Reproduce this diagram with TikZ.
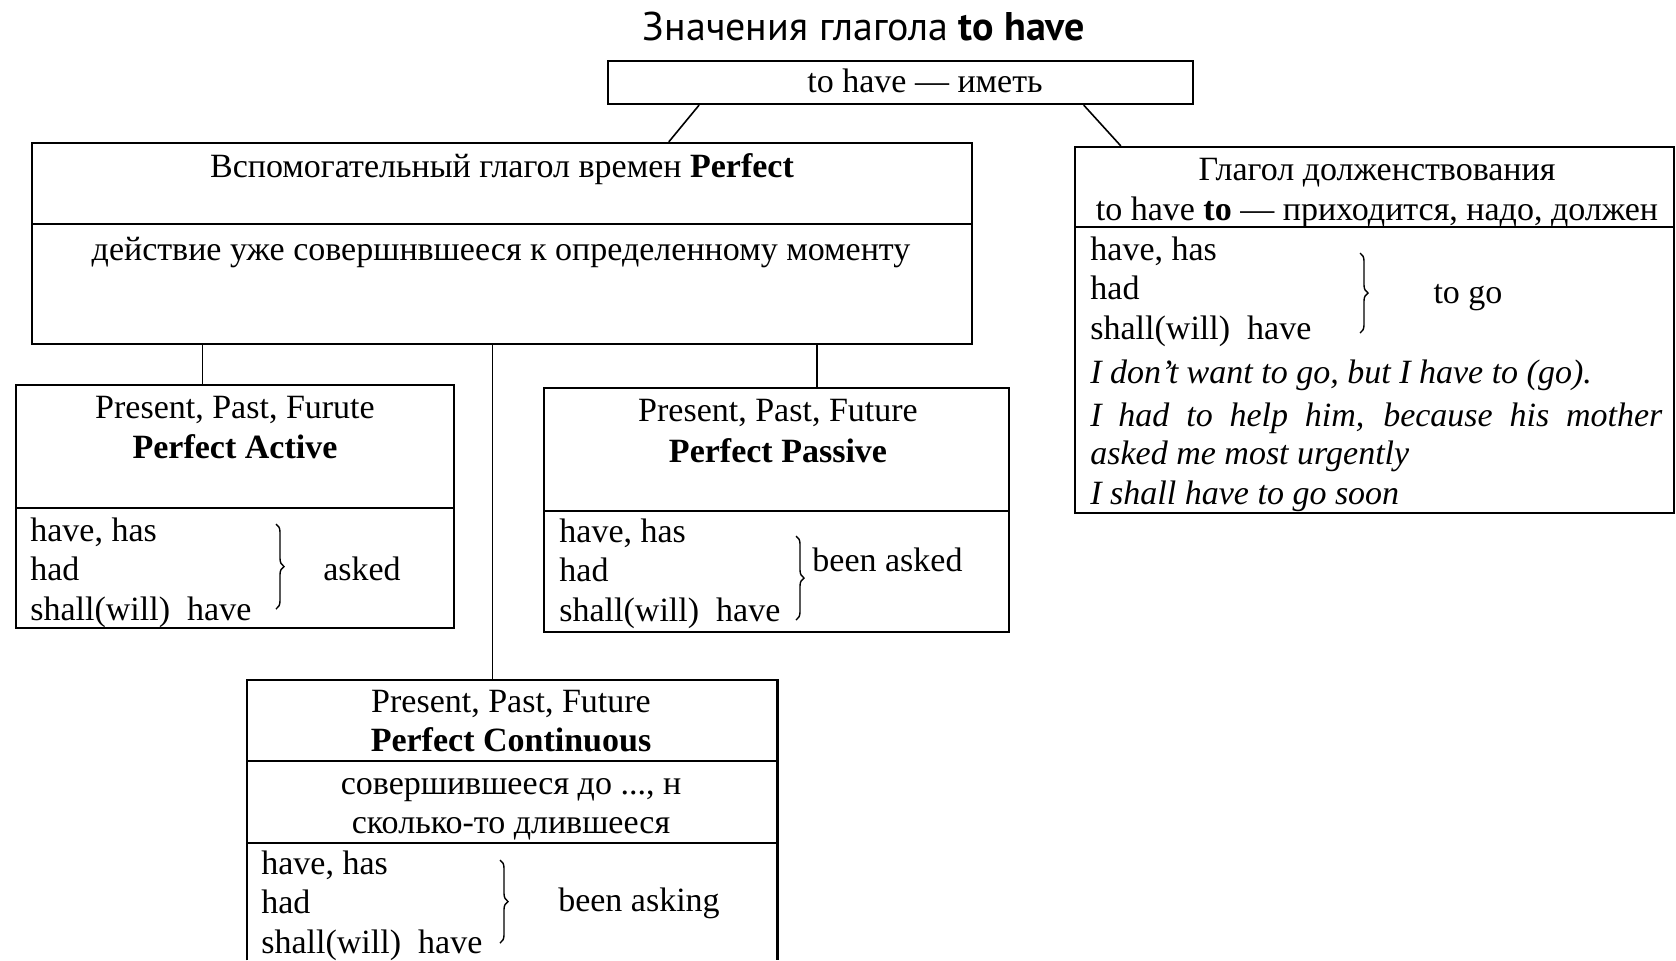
\documentclass[tikz,border=0pt]{standalone}
\usepackage{fontspec}
\setmainfont{Liberation Serif}
\newfontfamily\titlefont{PT Sans}
\usetikzlibrary{calc,fit,decorations.pathreplacing}

\tikzset{
  box/.style={draw, line width=1.1pt, inner sep=0pt},
  txt/.style={font=\fontsize{17}{19.75}\selectfont, inner sep=0pt, text height=12pt, text depth=4pt, yshift=-1.5pt},
  row/.style={txt, anchor=west},
  ex/.style={row, font=\fontsize{17}{19.75}\selectfont\itshape},
  brc/.style={decorate, decoration={brace, amplitude=4pt}, line width=0.7pt}
}

\begin{document}
\begin{tikzpicture}[x=0.5pt,y=-0.5pt]
        \useasboundingbox (0,0) rectangle (1676,960);
        \node[font=\titlefont\fontsize{20}{24}\selectfont] (title) at (864,27) {Значения глагола \textbf{to have}};
        % boxes
        \node[box, fit={(608,61) (1193,104)}] (top) {};
        \node[box, fit={(32,143) (972,344)}] (aux) {};
        \node[box, fit={(1075,147) (1674,513)}] (must) {};
        \node[box, fit={(16,385) (454,628)}] (act) {};
        \node[box, fit={(544,388) (1009,632)}] (pas) {};
        \node[inner sep=0pt, fit={(247,680) (777,960)}] (cont) {};
        \draw[line width=1.1pt] (cont.south west) |- (cont.north east) -- (cont.south east);
        % dividers
        \draw[line width=1.1pt] (32,224) -- (972,224);
        \draw[line width=1.1pt] (1075,227) -- (1674,227);
        \draw[line width=1.1pt] (16,508) -- (454,508);
        \draw[line width=1.1pt] (544,511) -- (1009,511);
        \draw[line width=1.1pt] (247,761) -- (777,761);
        \draw[line width=1.1pt] (247,843) -- (777,843);
        % connectors
        \draw[line width=0.8pt] ($(top.south west)!0.157!(top.south east)$) -- ($(aux.north west)!0.677!(aux.north east)$);
        \draw[line width=0.8pt] ($(top.south west)!0.812!(top.south east)$) -- ($(must.north west)!0.078!(must.north east)$);
        \coordinate (p1) at ($(aux.south west)!0.182!(aux.south east)$);
        \coordinate (p2) at ($(aux.south west)!0.490!(aux.south east)$);
        \coordinate (p3) at ($(aux.south west)!0.834!(aux.south east)$);
        \draw[line width=0.8pt] (p1) -- (p1 |- act.north);
        \draw[line width=0.8pt] (p2) -- (p2 |- cont.north);
        \draw[line width=0.8pt] (p3) -- (p3 |- pas.north);
        % headings
        \node[txt] (toph) at (925,81) {to have — иметь};
        \node[txt] (auxh) at (502,166) {Вспомогательный глагол времен \textbf{Perfect}};
        \node[txt] (auxd) at (501,249) {действие уже совершнвшееся к определенному моменту};
        \node[txt] (musth) at (1377,169) {Глагол долженствования};
        \node[txt] (mustt) at (1377,209) {to have \textbf{to} — приходится, надо, должен};
        \node[txt] (acth) at (235,407) {Present, Past, Furute};
        \node[txt] (actb) at (235,447) {\textbf{Perfect Active}};
        \node[txt] (pash) at (778,410) {Present, Past, Future};
        \node[txt] (pasb) at (778,451) {\textbf{Perfect Passive}};
        \node[txt] (conth) at (511,701) {Present, Past, Future};
        \node[txt] (contb) at (511,740) {\textbf{Perfect Continuous}};
        \node[txt] (contd) at (511,783) {совершившееся до ..., н};
        \node[txt] (conte) at (511,822) {сколько-то длившееся};
        % forms
        \foreach \x/\y/\n in {30/530/act, 559/531/pas, 261/863/cont, 1090/249/must}
          \foreach \t [count=\i] in {{have, has},had,{shall(will)\ \ have}}
            \node[row] (\n\i) at (\x,\y+39.5*\i-39.5) {\t};
        \draw[brc] (276,524) -- (276,609);
        \draw[brc] (796,536) -- (796,620);
        \draw[brc] (500,860) -- (500,943);
        \draw[brc] (1360,253) -- (1360,333);
        \node[txt] (actr) at (362,569) {asked};
        \node[row] (pasr) at (812,560) {been asked};
        \node[txt] (contr) at (639,900) {been asking};
        \node[txt] (mustr) at (1468,292) {to go};
        % examples
        \node[ex] (ex1) at (1090,372) {I don't want to go, but I have to (go).};
        \node[ex] (ex2) at (1090,415) {\makebox[286pt][s]{I had to help him, because his mother}};
        \node[ex] (ex3) at (1090,453) {asked me most urgently};
        \node[ex] (ex4) at (1090,493) {I shall have to go soon};
    \end{tikzpicture}
\end{document}
